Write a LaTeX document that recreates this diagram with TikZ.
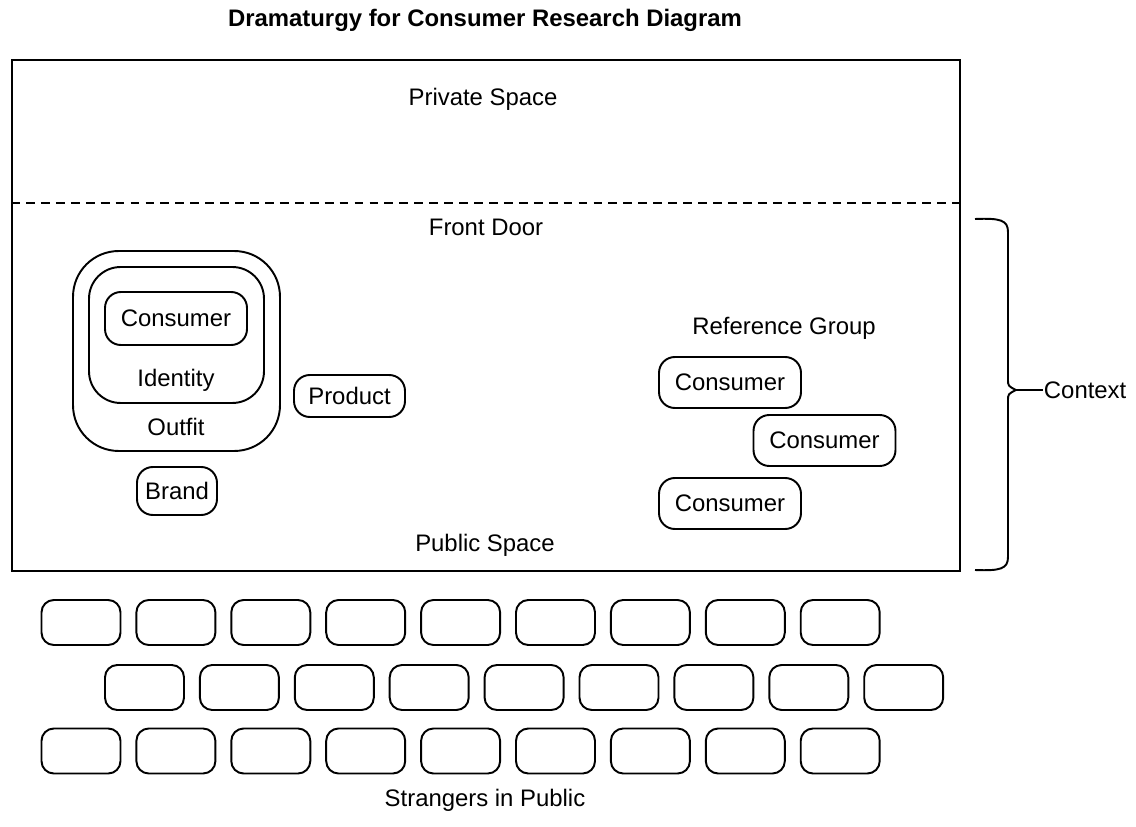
\documentclass[tikz,border=0pt]{standalone}
\usepackage{fontspec}
\setmainfont{Liberation Sans}
\usepackage{tikz}
\usetikzlibrary{positioning}
\newcommand{\lblfont}{\fontsize{13.6}{16}\selectfont}
\newcommand{\keywidth}{1.58cm}
\tikzstyle{box}=[draw, line width=1.1pt, rounded corners=9pt, inner sep=0, font=\lblfont]
\tikzstyle{keybox}=[box, rounded corners=7pt, minimum width=\keywidth, minimum height=0.9cm]
\tikzstyle{lbl}=[inner sep=0, font=\lblfont]
\tikzstyle{stage}=[x=0.02cm, y=-0.02cm, line width=1.1pt,
                   % Keep the margins of the original page.
                   execute at end picture={\useasboundingbox (0,0) rectangle (1136,827);}]

\begin{document}
\begin{tikzpicture}[stage]
    \node[lbl, font=\fontsize{13.6}{16}\selectfont\bfseries] (title) at (485, 20) {Dramaturgy for Consumer Research Diagram};
    \node[draw, line width=1.1pt, minimum width=18.96cm, minimum height=10.22cm, inner sep=0] (frame) at (486, 315.5) {};
    \draw[dash pattern=on 5pt off 3.5pt] (frame.west |- 0, 203) coordinate (door west) -- (frame.east |- 0, 203) coordinate (door east);
    \node[lbl] (private) at (483, 99) {Private Space};
    \node[lbl] (frontdoor) at (486, 227) {Front Door};
    \node[lbl] (public) at (485, 545) {Public Space};
    % Consumer wrapped in identity and outfit
    \node[box, rounded corners=26pt, minimum width=4.14cm, minimum height=4cm] (outfit) at (176.5, 351) {};
    \node[box, rounded corners=18pt, minimum width=3.5cm, minimum height=2.72cm] (identity) at (176.5, 335) {};
    \node[box, minimum width=2.84cm, minimum height=1.06cm] (self) at (176, 318.5) {Consumer};
    \node[lbl] (identitylbl) at (176, 380) {Identity};
    \node[lbl] (outfitlbl) at (176, 427) {Outfit};
    \node[box, minimum width=2.22cm, minimum height=0.84cm] (product) at (349.5, 396) {Product};
    \node[box, minimum width=1.6cm, minimum height=0.96cm] (brand) at (177, 491) {Brand};
    % Reference group
    \node[lbl] (refgroup) at (784, 328) {Reference Group};
    \node[box, minimum width=2.84cm, minimum height=1.02cm] (peer1) at (730, 382.5) {Consumer};
    \node[box, minimum width=2.84cm, minimum height=1.02cm] (peer2) at (824.5, 440.5) {Consumer};
    \node[box, minimum width=2.84cm, minimum height=1.02cm] (peer3) at (730, 503.5) {Consumer};
    % Context brace
    \coordinate (tip) at (1016, 390);
    \draw (975, 219) .. controls (1000, 218) and (1008, 220) .. (1008, 232) -- (1008, 379)
          .. controls (1008, 386) .. (tip) .. controls (1008, 394) .. (1008, 401) -- (1008, 557)
          .. controls (1008, 569) and (1000, 571) .. (975, 570);
    \node[lbl, anchor=west] (context) at (1043, 390) {Context};
    \draw (tip) -- (context.west);
    % Strangers
    \foreach \i in {0,...,8} {
        \node[keybox] (stranger a\i) at (81 + 94.9*\i, 622.5) {};
        \node[keybox] (stranger b\i) at (144.5 + 94.9*\i, 687.5) {};
        \node[keybox] (stranger c\i) at (81 + 94.9*\i, 751) {};
    }
    \node[lbl] (strangers) at (485, 800) {Strangers in Public};
\end{tikzpicture}
\end{document}
